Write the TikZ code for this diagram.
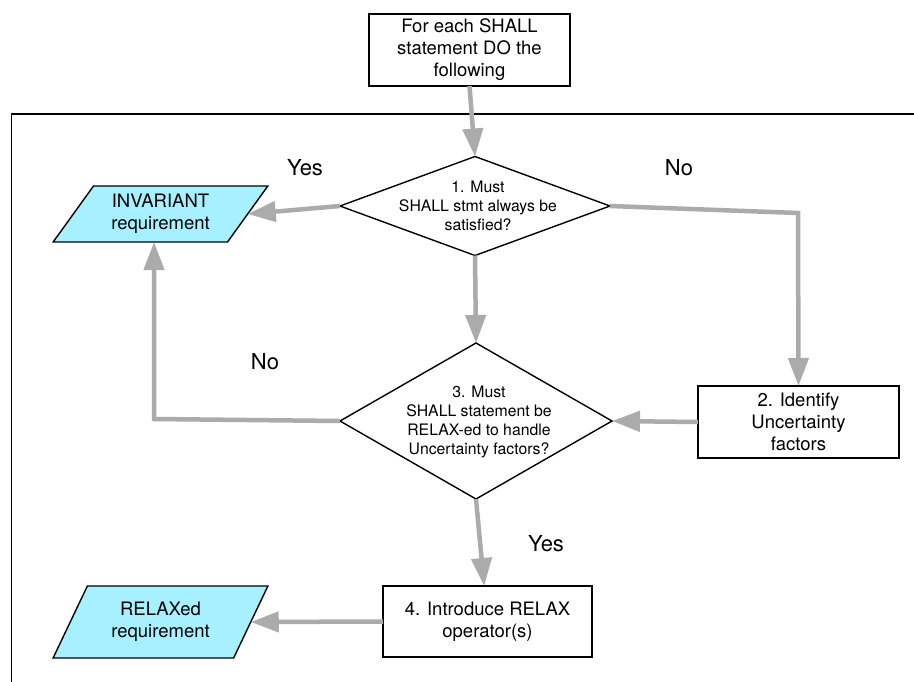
\documentclass[tikz,border=0pt]{standalone}
\usepackage{fontspec}
\setmainfont{TeX Gyre Heros}
\usetikzlibrary{arrows.meta,shapes.geometric}
\definecolor{flowgray}{RGB}{171,171,171}
\definecolor{reqcyan}{RGB}{166,240,255}
\begin{document}
\begin{tikzpicture}[x=1pt,y=-1pt,
  every node/.style={inner sep=0pt, outer sep=0pt},
  boxtxt/.style={font=\fontsize{18.5}{22}\selectfont, align=center},
  procbox/.style={draw=black, line width=1.4pt, fill=white, rectangle, boxtxt},
  decision/.style={draw=black, line width=1.4pt, fill=white, diamond},
  dectxt/.style={font=\fontsize{15.8}{19}\selectfont, align=center},
  outreq/.style={draw=black, line width=1.4pt, fill=reqcyan, trapezium,
    trapezium stretches=true, boxtxt},
  answer/.style={font=\fontsize{22}{26}\selectfont},
  flow/.style={draw=flowgray, line width=4.5pt, -{Triangle[length=28pt,width=20pt]}}
]
\useasboundingbox (0,0) rectangle (914,681);
\fill[white] (0,0) rectangle (914,681);

% outer frame, running past the page edge on the right and bottom
\begin{scope}
  \clip (0,0) rectangle (914,681);
  \draw[line width=1.6pt] (940,114) -- (11.5,114) -- (11.5,700);
\end{scope}

% process boxes
\node[procbox, minimum width=201pt, minimum height=72pt] (start) at (469.5,50)
  {For each SHALL\\statement DO the\\following};
\node[procbox, minimum width=201pt, minimum height=72pt] (b2) at (798.5,422)
  {2. Identify\\Uncertainty\\factors};
\node[procbox, minimum width=209pt, minimum height=71pt] (b4) at (487.5,621.5)
  {4. Introduce RELAX\\operator(s)};

% decisions
\node[decision, minimum width=270pt, minimum height=99pt,
  label={[dectxt, xshift=3pt]center:{1. Must\\SHALL stmt always be\\satisfied?}}] (d1) at (475,206) {};
\node[decision, minimum width=272pt, minimum height=156pt,
  label={[dectxt, xshift=3pt, yshift=-1pt]center:{3. Must\\SHALL statement be\\RELAX-ed to handle\\Uncertainty factors?}}] (d3) at (476,421) {};

% outcomes
\node[outreq, trapezium left angle=53.13, trapezium right angle=126.87,
  minimum width=215pt, minimum height=56pt] (inv) at (160.5,214)
  {INVARIANT\\requirement};
\node[outreq, trapezium left angle=59.74, trapezium right angle=120.26,
  minimum width=215pt, minimum height=72pt] (rlx) at (160.5,622)
  {RELAXed\\requirement};

% answer labels
\node[answer] (yes1) at (305,168) {Yes};
\node[answer] (no1) at (679,168) {No};
\node[answer] (no2) at (265,362) {No};
\node[answer] (yes2) at (546,544) {Yes};

% bends
\coordinate (bendR) at (798,213);
\coordinate (bendL) at (154,419);

% connectors
\draw[flow] (start.south) -- (d1.north);
\draw[flow] (d1.west) -- (inv.right side);
\draw[flow] (d1.east) -- (bendR) -- (b2.north);
\draw[flow] (d1.south) -- (d3.north);
\draw[flow] (b2.west) -- (d3.east);
\draw[flow] (d3.west) -- (bendL) -- (bendL |- inv.bottom side);
\draw[flow] (d3.south) -- (b4);
\draw[flow] (b4.west) -- (rlx.right side);
\end{tikzpicture}
\end{document}
